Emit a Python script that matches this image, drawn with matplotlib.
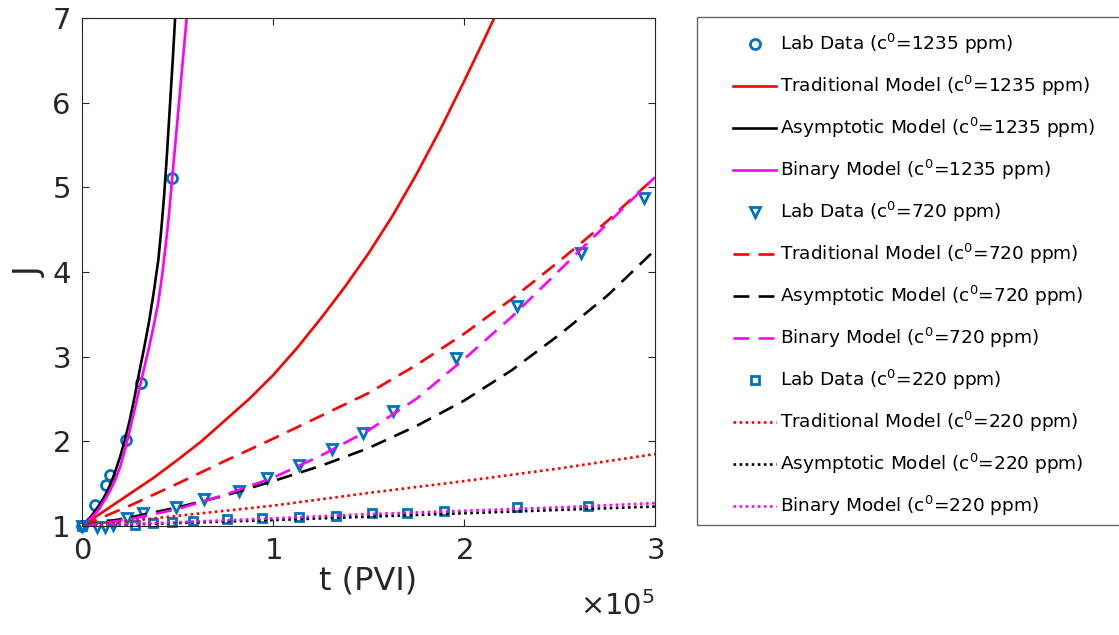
import numpy as np
import matplotlib
matplotlib.use('Agg')
import matplotlib.pyplot as plt
from matplotlib.ticker import ScalarFormatter
from matplotlib.patches import Rectangle

# lab data, c0 = 1235 ppm
t_lab_1235 = [0, 6800, 12600, 14700, 23000, 31000, 47000]
J_lab_1235 = [1.0, 1.25, 1.48, 1.60, 2.02, 2.69, 5.11]
# lab data, c0 = 720 ppm
t_lab_720 = [0, 7900, 12000, 16000, 23600, 32000, 49000, 64000, 82000, 97000,
             113600, 131000, 147000, 163000, 196000, 228000, 261000, 294000]
J_lab_720 = [1.0, 0.99, 0.99, 1.01, 1.09, 1.15, 1.22, 1.32, 1.41, 1.57,
             1.72, 1.91, 2.10, 2.36, 2.98, 3.60, 4.22, 4.87]
# lab data, c0 = 220 ppm
t_lab_220 = [0, 28000, 37000, 47000, 58000, 76000, 94000, 113600, 133000,
             152000, 170000, 189500, 228000, 265000]
J_lab_220 = [1.0, 1.01, 1.03, 1.05, 1.06, 1.08, 1.09, 1.11, 1.12,
             1.15, 1.15, 1.18, 1.22, 1.24]

# model curves, c0 = 1235 ppm
t_trad_1235 = [0, 12500, 25000, 37500, 50000, 62500, 75000, 87500, 100000, 112500,
               125000, 137500, 150000, 162500, 175000, 187500, 200000, 210000, 220000]
J_trad_1235 = [1.0, 1.19, 1.38, 1.57, 1.78, 2.0, 2.25, 2.5, 2.78, 3.1,
               3.45, 3.82, 4.22, 4.66, 5.15, 5.68, 6.25, 6.72, 7.2]
t_asym_1235 = [0, 2500, 5000, 7500, 10000, 12500, 15000, 17500, 20000, 22500, 25000, 27500,
               30000, 32500, 35000, 37500, 40000, 41500, 43000, 44500, 46000, 47500, 49000]
J_asym_1235 = [1.0, 1.06, 1.12, 1.2, 1.28, 1.38, 1.5, 1.65, 1.82, 2.02, 2.25, 2.52,
               2.82, 3.1, 3.4, 3.75, 4.15, 4.5, 4.9, 5.4, 5.95, 6.5, 7.1]
t_bin_1235 = [0, 2500, 5000, 7500, 10000, 12500, 15000, 17500, 20000, 22500, 25000, 27500,
              30000, 32500, 35000, 37500, 40000, 42000, 44000, 45500, 47000, 49000, 51000, 53000, 55000]
J_bin_1235 = [1.0, 1.05, 1.1, 1.16, 1.24, 1.33, 1.43, 1.55, 1.7, 1.9, 2.13, 2.37,
              2.62, 2.86, 3.1, 3.36, 3.65, 3.97, 4.35, 4.67, 5.05, 5.55, 6.05, 6.55, 7.05]

# model curves, c0 = 720 ppm
t_m720 = [0, 25000, 50000, 75000, 100000, 125000, 150000, 175000, 200000,
          225000, 250000, 275000, 300000]
J_trad_720 = [1.0, 1.24, 1.5, 1.77, 2.03, 2.3, 2.57, 2.9, 3.27, 3.68, 4.13, 4.6, 5.12]
J_asym_720 = [1.0, 1.1, 1.22, 1.36, 1.53, 1.71, 1.92, 2.18, 2.48, 2.84, 3.26, 3.72, 4.26]
J_bin_720 = [1.0, 1.08, 1.2, 1.37, 1.57, 1.83, 2.13, 2.5, 2.97, 3.47, 4.02, 4.57, 5.12]

# model curves, c0 = 220 ppm
t_m220 = [0, 50000, 100000, 150000, 200000, 250000, 300000]
J_trad_220 = [1.0, 1.12, 1.24, 1.39, 1.53, 1.68, 1.85]
J_asym_220 = [1.0, 1.035, 1.07, 1.11, 1.15, 1.19, 1.23]
J_bin_220 = [1.0, 1.045, 1.09, 1.14, 1.18, 1.22, 1.27]

blue = (0, 0.447, 0.741)
dash = (6, 3.5)
dot = (1, 1.3)
lw = 1.9
W, H = 1119, 635

plt.rcParams['font.family'] = 'DejaVu Sans'
fig = plt.figure(figsize=(W / 100, H / 100), dpi=100)
ax = fig.add_axes([82 / W, 1 - 526 / H, (655 - 82) / W, (526 - 18) / H])

ax.plot(t_lab_1235, J_lab_1235, 'o', ms=7.2, mfc='none', mec=blue, mew=2, clip_on=False,
        label=r'Lab Data (c$^0$=1235 ppm)')
ax.plot(t_trad_1235, J_trad_1235, '-', color='red', lw=lw, label=r'Traditional Model (c$^0$=1235 ppm)')
ax.plot(t_asym_1235, J_asym_1235, '-', color='black', lw=lw, label=r'Asymptotic Model (c$^0$=1235 ppm)')
ax.plot(t_bin_1235, J_bin_1235, '-', color='magenta', lw=lw, label=r'Binary Model (c$^0$=1235 ppm)')

ax.plot(t_lab_720, J_lab_720, 'v', ms=7.5, mfc='none', mec=blue, mew=2, clip_on=False,
        label=r'Lab Data (c$^0$=720 ppm)')
ax.plot(t_m720, J_trad_720, '--', dashes=dash, color='red', lw=lw, label=r'Traditional Model (c$^0$=720 ppm)')
ax.plot(t_m720, J_asym_720, '--', dashes=dash, color='black', lw=lw, label=r'Asymptotic Model (c$^0$=720 ppm)')
ax.plot(t_m720, J_bin_720, '--', dashes=dash, color='magenta', lw=lw, label=r'Binary Model (c$^0$=720 ppm)')

ax.plot(t_lab_220, J_lab_220, 's', ms=6.2, mfc='none', mec=blue, mew=2, clip_on=False,
        label=r'Lab Data (c$^0$=220 ppm)')
ax.plot(t_m220, J_trad_220, ':', dashes=dot, color='red', lw=lw, label=r'Traditional Model (c$^0$=220 ppm)')
ax.plot(t_m220, J_asym_220, ':', dashes=dot, color='black', lw=lw, label=r'Asymptotic Model (c$^0$=220 ppm)')
ax.plot(t_m220, J_bin_220, ':', dashes=dot, color='magenta', lw=lw, label=r'Binary Model (c$^0$=220 ppm)')

ax.set_xlim(0, 300000)
ax.set_ylim(1, 7)
ax.set_xticks([0, 100000, 200000, 300000])
ax.set_yticks([1, 2, 3, 4, 5, 6, 7])
fmt = ScalarFormatter(useMathText=True)
fmt.set_powerlimits((0, 0))
ax.xaxis.set_major_formatter(fmt)
ax.xaxis.get_offset_text().set_visible(False)
fig.text(655 / W, 1 - 606 / H, r'$\times\mathregular{10^5}$', fontsize=21, color='0.15',
         ha='right', va='center')

for s in ax.spines.values():
    s.set_color('0.15')
    s.set_linewidth(0.8)
ax.tick_params(direction='in', length=5, width=0.8, colors='0.15', labelsize=21,
               top=True, right=True, pad=8)
ax.set_xlabel('t (PVI)', fontsize=23, color='0.15', labelpad=0)
ax.set_ylabel('J', fontsize=24, color='0.15')
ax.yaxis.set_label_coords(-0.062, 0.5)

# legend frame drawn separately, it runs off the right edge
fig.patches.append(Rectangle((697 / W, 1 - 525 / H), (1140 - 697) / W, (525 - 17) / H,
                             transform=fig.transFigure, fill=False, edgecolor='0.4', lw=1.0))
leg = ax.legend(loc='upper left', bbox_to_anchor=(733 / W, 1 - 32 / H), bbox_transform=fig.transFigure,
                fontsize=13.3, frameon=False, handlelength=2.35, handletextpad=0.22,
                labelspacing=0.97, borderpad=0, borderaxespad=0)

fig.savefig('out.png', dpi=100)
